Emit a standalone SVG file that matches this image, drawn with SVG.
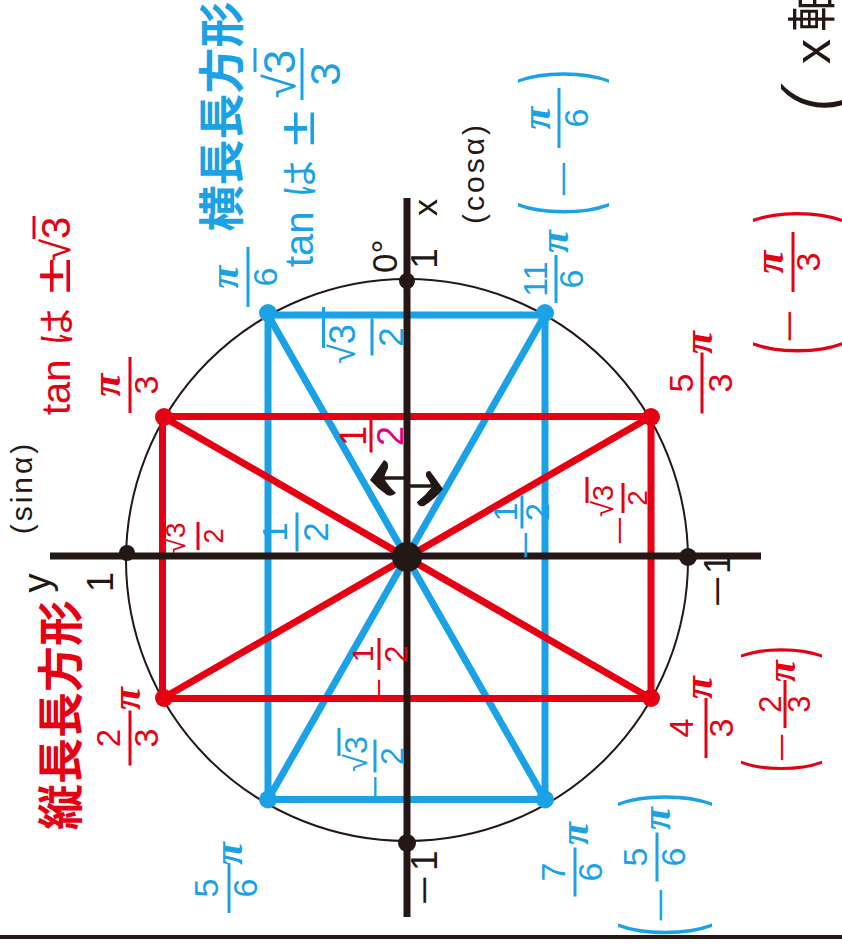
<svg xmlns="http://www.w3.org/2000/svg" width="842" height="945" viewBox="0 0 842 945">
<style>
.n{font-family:"Liberation Sans",Arial,sans-serif}
.pi{font-family:"Liberation Serif","Times New Roman",serif;font-style:italic;font-weight:700}
.jp{font-family:"Noto Sans CJK JP","Noto Sans CJK SC",sans-serif}
.thin{font-family:"Noto Sans","DejaVu Sans",sans-serif;font-weight:200}
.c{text-anchor:middle}
.r{fill:#e60012}
.b{fill:#1ba1e6}
.k{fill:#231815}
.m{fill:#e4007f}
.sr{stroke:#e60012;stroke-width:3}
.sb{stroke:#1ba1e6;stroke-width:3}
.ax{stroke:#231815;stroke-width:7;fill:none}
.cir{stroke:#231815;stroke-width:2;fill:none}
.rl{stroke:#e60012;stroke-width:7;fill:none}
.bl{stroke:#1ba1e6;stroke-width:7;fill:none}
</style>
<rect width="842" height="945" fill="#ffffff"/>

<g id="unit-circle"><circle class="cir" cx="407" cy="560" r="281"/></g>

<g id="connectors">
  <g id="blue-shape">
    <rect class="bl" x="268" y="315" width="277" height="484.5"/>
    <line class="bl" x1="268" y1="315" x2="545" y2="799.5"/>
    <line class="bl" x1="545" y1="315" x2="268" y2="799.5"/>
  </g>
  <g id="red-shape">
    <rect class="rl" x="162.5" y="416.5" width="488.5" height="282"/>
    <line class="rl" x1="162.5" y1="416.5" x2="651" y2="698.5"/>
    <line class="rl" x1="651" y1="416.5" x2="162.5" y2="698.5"/>
  </g>
  <g id="axes">
    <line class="ax" x1="50" y1="556" x2="761" y2="556"/>
    <line class="ax" x1="407" y1="198" x2="407" y2="917"/>
  </g>
  <line id="base-line" x1="0" y1="937" x2="842" y2="937" stroke="#231815" stroke-width="4"/>
  <g id="symmetry-arrows" fill="#231815" stroke="#231815">
    <line x1="404" y1="478" x2="380" y2="478" stroke-width="3.5"/>
    <path stroke="none" d="M370,480 Q378,469 384,460 Q389,462 388,468 Q385,474 384,478 Q388,486 396,493 Q392,497 387,495 Q378,489 370,480 Z"/>
    <line x1="410" y1="486" x2="432" y2="486" stroke-width="3.5"/>
    <path stroke="none" d="M443,489 Q436,479 430,471 Q425,471 426,476 Q430,482 432,487 Q426,495 417,502 Q418,507 424,506 Q435,499 443,489 Z"/>
  </g>
</g>

<g id="dots">
  <g fill="#1ba1e6">
    <circle cx="268" cy="313" r="9"/><circle cx="545" cy="313" r="9"/>
    <circle cx="268" cy="799.5" r="9"/><circle cx="545" cy="799.5" r="9"/>
  </g>
  <g fill="#e60012">
    <circle cx="164" cy="417" r="9"/><circle cx="651" cy="417" r="9"/>
    <circle cx="164" cy="698" r="9"/><circle cx="651" cy="698" r="9"/>
  </g>
  <g fill="#231815">
    <circle cx="127" cy="553" r="8"/><circle cx="407" cy="281" r="8"/>
    <circle cx="688" cy="557" r="9"/><circle cx="407" cy="843" r="9"/>
    <circle cx="407" cy="557" r="15"/>
  </g>
</g>

<!-- titles -->
<g id="title-blue" transform="translate(217.5,116.5) rotate(-90)">
  <text class="jp b c" font-size="46" font-weight="700" dominant-baseline="central">横長長方形</text>
</g>
<g id="title-red" transform="translate(56.5,715) rotate(-90)">
  <text class="jp r c" font-size="46" font-weight="700" dominant-baseline="central">縦長長方形</text>
</g>

<g id="tan-blue" transform="translate(313,267) rotate(-90)">
  <text class="n b" x="0" y="0" font-size="40">tan</text>
  <text class="jp b" x="69" y="0" font-size="38">は</text>
  <text class="n b c" font-size="50" transform="translate(138.5,1) scale(1.3,1)">±</text>
  <g transform="translate(193,-11)">
    <line class="sb" x1="-26" y1="0" x2="26" y2="0"/>
    <text class="n b c" x="0" y="-7" font-size="44">√3</text>
    <line class="sb" x1="2" y1="-47" x2="26" y2="-47"/>
    <text class="n b c" x="0" y="38" font-size="42">3</text>
  </g>
</g>
<g id="tan-red" transform="translate(70,415) rotate(-90)">
  <text class="n r" x="0" y="0" font-size="40">tan</text>
  <text class="jp r" x="69" y="0" font-size="38">は</text>
  <text class="n r c" font-size="50" transform="translate(139,0) scale(1.3,1)">±</text>
  <text class="n r" x="154" y="0" font-size="40">√3</text>
  <line class="sr" x1="176" y1="-36" x2="199" y2="-36"/>
</g>

<!-- axis labels -->
<g id="lbl-sin" transform="translate(32,487.5) rotate(-90)"><text class="n k c" font-size="30" letter-spacing="3">(sinα)</text></g>
<g id="lbl-cos" transform="translate(484,173) rotate(-90)"><text class="n k c" font-size="30" letter-spacing="3">(cosα)</text></g>
<g id="lbl-x" transform="translate(437,207.5) rotate(-90)"><text class="n k c" font-size="34">x</text></g>
<g id="lbl-y" transform="translate(50,583) rotate(-90)"><text class="n k c" font-size="38">y</text></g>
<g id="lbl-1-left" transform="translate(113,582) rotate(-90)"><text class="n k c" font-size="36">1</text></g>
<g id="lbl-1-top" transform="translate(437,258.5) rotate(-90)"><text class="n k c" font-size="37">1</text></g>
<g id="lbl-0deg" transform="translate(397,273) rotate(-90)"><text class="n k" font-size="35">0°</text></g>
<g id="lbl-m1-right" transform="translate(730,607) rotate(-90)">
  <text class="n k c" font-size="37" transform="translate(15.5,0) scale(1.5,1)">−</text>
  <text class="n k" x="33" y="0" font-size="37">1</text>
</g>
<g id="lbl-m1-bottom" transform="translate(437,905) rotate(-90)">
  <text class="n k c" font-size="37" transform="translate(14.5,0) scale(1.4,1)">−</text>
  <text class="n k" x="34" y="0" font-size="37">1</text>
</g>
<g id="lbl-xaxis" transform="translate(830,110) rotate(-90)">
  <text class="thin k c" font-size="100" transform="translate(14,22) scale(1.3,1)">(</text>
  <text class="n k" x="46" y="0" font-size="50">x</text>
  <text class="jp k" x="78" y="0" font-size="50">軸</text>
</g>

<!-- angle labels -->
<g id="ang-pi3" transform="translate(130,385) rotate(-90)">
  <line class="sr" x1="-28" y1="0" x2="28" y2="0"/>
  <text class="pi r c" x="0" y="-10" font-size="42">π</text>
  <text class="n r c" x="0" y="28" font-size="34">3</text>
</g>
<g id="ang-pi6" transform="translate(248,277) rotate(-90)">
  <line class="sb" x1="-30" y1="0" x2="30" y2="0"/>
  <text class="pi b c" x="0" y="-10" font-size="42">π</text>
  <text class="n b c" x="0" y="29" font-size="34">6</text>
</g>
<g id="ang-11pi6" transform="translate(556,279) rotate(-90)">
  <line class="sb" x1="-24" y1="0" x2="24" y2="0"/>
  <text class="n b c" x="0" y="-9" font-size="34">11</text>
  <text class="n b c" x="0" y="27" font-size="34">6</text>
  <text class="pi b" x="26" y="12" font-size="42">π</text>
</g>
<g id="ang-mpi6" transform="translate(559,118) rotate(-90)">
  <text class="n b c" font-size="99" transform="translate(-91.5,30) scale(0.4,1)">(</text>
  <text class="n b c" font-size="34" transform="translate(-61,16) scale(1.95,1)">−</text>
  <line class="sb" x1="-30" y1="0" x2="30" y2="0"/>
  <text class="pi b c" x="0" y="-9" font-size="42">π</text>
  <text class="n b c" x="0" y="29" font-size="34">6</text>
  <text class="n b c" font-size="99" transform="translate(41.5,30) scale(0.4,1)">)</text>
</g>
<g id="ang-5pi6" transform="translate(229,888) rotate(-90)">
  <line class="sb" x1="-25" y1="0" x2="25" y2="0"/>
  <text class="n b c" x="0" y="-11" font-size="34">5</text>
  <text class="n b c" x="0" y="28" font-size="34">6</text>
  <text class="pi b" x="23" y="13" font-size="42">π</text>
</g>
<g id="ang-2pi3" transform="translate(130,738) rotate(-90)">
  <line class="sr" x1="-27.5" y1="0" x2="27.5" y2="0"/>
  <text class="n r c" x="0" y="-10" font-size="33">2</text>
  <text class="n r c" x="0" y="28" font-size="34">3</text>
  <text class="pi r" x="28" y="10" font-size="42">π</text>
</g>
<g id="ang-4pi3" transform="translate(706,728) rotate(-90)">
  <line class="sr" x1="-30" y1="0" x2="30" y2="0"/>
  <text class="n r c" x="0" y="-13" font-size="34">4</text>
  <text class="n r c" x="0" y="27" font-size="34">3</text>
  <text class="pi r" x="29" y="6" font-size="42">π</text>
</g>
<g id="ang-m2pi3" transform="translate(785,704) rotate(-90)">
  <text class="n r c" font-size="87" transform="translate(-62.5,18.6) scale(0.4,1)">(</text>
  <text class="n r c" font-size="30" transform="translate(-43.5,7) scale(1.74,1)">−</text>
  <line class="sr" x1="-24" y1="0" x2="24" y2="0"/>
  <text class="n r c" x="0" y="-4" font-size="31">2</text>
  <text class="n r c" x="0" y="25" font-size="31">3</text>
  <text class="pi r" x="22" y="10" font-size="40">π</text>
  <text class="n r c" font-size="87" transform="translate(52,18.6) scale(0.4,1)">)</text>
</g>
<g id="ang-5pi3" transform="translate(702,383) rotate(-90)">
  <line class="sr" x1="-30.5" y1="0" x2="30.5" y2="0"/>
  <text class="n r c" x="0" y="-9" font-size="34">5</text>
  <text class="n r c" x="0" y="30" font-size="34">3</text>
  <text class="pi r" x="29" y="10" font-size="42">π</text>
</g>
<g id="ang-mpi3" transform="translate(793,262) rotate(-90)">
  <text class="n r c" font-size="95" transform="translate(-86.5,29) scale(0.4,1)">(</text>
  <text class="n r c" font-size="34" transform="translate(-64,8) scale(1.72,1)">−</text>
  <line class="sr" x1="-30" y1="0" x2="30" y2="0"/>
  <text class="pi r c" x="0" y="-10" font-size="42">π</text>
  <text class="n r c" x="0" y="27" font-size="34">3</text>
  <text class="n r c" font-size="95" transform="translate(46,29) scale(0.4,1)">)</text>
</g>
<g id="ang-7pi6" transform="translate(575,872) rotate(-90)">
  <line class="sb" x1="-24.5" y1="0" x2="24.5" y2="0"/>
  <text class="n b c" x="0" y="-10" font-size="34">7</text>
  <text class="n b c" x="0" y="27" font-size="34">6</text>
  <text class="pi b" x="27" y="13" font-size="42">π</text>
</g>
<g id="ang-m5pi6" transform="translate(657,857) rotate(-90)">
  <text class="n b c" font-size="101" transform="translate(-73,34) scale(0.4,1)">(</text>
  <text class="n b c" font-size="34" transform="translate(-48,15) scale(1.84,1)">−</text>
  <line class="sb" x1="-24.5" y1="0" x2="24.5" y2="0"/>
  <text class="n b c" x="0" y="-10" font-size="34">5</text>
  <text class="n b c" x="0" y="28" font-size="34">6</text>
  <text class="pi b" x="27" y="13" font-size="42">π</text>
  <text class="n b c" font-size="101" transform="translate(57.5,34) scale(0.4,1)">)</text>
</g>

<!-- coordinate labels -->
<g id="val-s32-blue" transform="translate(372,337) rotate(-90)">
  <line class="sb" x1="-18.5" y1="0" x2="18.5" y2="0"/>
  <text class="n b c" x="-7" y="-17" font-size="36">√3</text>
  <line class="sb" x1="-11" y1="-48.5" x2="30" y2="-48.5"/>
  <text class="n b c" x="0" y="31" font-size="35">2</text>
</g>
<g id="val-h-red" transform="translate(371,436) rotate(-90)">
  <line class="sr" x1="-16.5" y1="0" x2="16.5" y2="0"/>
  <text class="n r c" x="0" y="-5" font-size="36">1</text>
  <text class="n m c" x="0" y="32" font-size="36">2</text>
</g>
<g id="val-h-blue" transform="translate(297,532) rotate(-90)">
  <line class="sb" x1="-19.5" y1="0" x2="19.5" y2="0"/>
  <text class="n b c" x="0" y="-10" font-size="35">1</text>
  <text class="n b c" x="0" y="31" font-size="35">2</text>
</g>
<g id="val-mh-blue" transform="translate(522,512) rotate(-90)">
  <text class="n b c" font-size="34" transform="translate(-33,15) scale(1.47,1)">−</text>
  <line class="sb" x1="-16.5" y1="0" x2="16.5" y2="0"/>
  <text class="n b c" x="0" y="-5" font-size="34">1</text>
  <text class="n b c" x="0" y="27" font-size="33">2</text>
</g>
<g id="val-s32-red" transform="translate(198,536) rotate(-90)">
  <line class="sr" x1="-14" y1="0" x2="14" y2="0"/>
  <text class="n r c" x="-2" y="-13" font-size="28">√3</text>
  <line class="sr" x1="-4" y1="-37" x2="22" y2="-37"/>
  <text class="n r c" x="0" y="25" font-size="27">2</text>
</g>
<g id="val-ms32-red" transform="translate(623,498) rotate(-90)">
  <text class="n r c" font-size="28" transform="translate(-32.5,6) scale(1.86,1)">−</text>
  <line class="sr" x1="-15" y1="0" x2="15" y2="0"/>
  <text class="n r c" x="-3" y="-10" font-size="29">√3</text>
  <line class="sr" x1="-5" y1="-36" x2="21" y2="-36"/>
  <text class="n r c" x="0" y="24" font-size="28">2</text>
</g>
<g id="val-mh-red" transform="translate(379,654) rotate(-90)">
  <text class="n r c" font-size="30" transform="translate(-34.5,10) scale(1.18,1)">−</text>
  <line class="sr" x1="-16" y1="0" x2="16" y2="0"/>
  <text class="n r c" x="0" y="-6" font-size="30">1</text>
  <text class="n r c" x="0" y="28" font-size="31">2</text>
</g>
<g id="val-ms32-blue" transform="translate(375,756) rotate(-90)">
  <text class="n b c" font-size="32" transform="translate(-31,11) scale(1.3,1)">−</text>
  <line class="sb" x1="-16.5" y1="0" x2="16.5" y2="0"/>
  <text class="n b c" x="2" y="-8" font-size="32">√3</text>
  <line class="sb" x1="0" y1="-36" x2="28" y2="-36"/>
  <text class="n b c" x="0" y="28" font-size="32">2</text>
</g>
</svg>
